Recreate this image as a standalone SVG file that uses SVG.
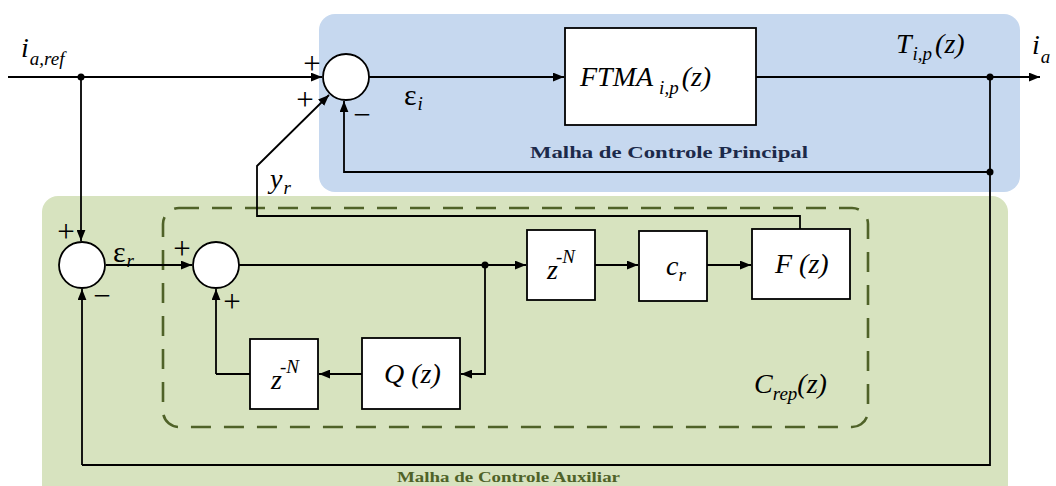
<svg xmlns="http://www.w3.org/2000/svg" width="1056" height="486" viewBox="0 0 1056 486">
<defs>
<marker id="ah" viewBox="0 0 10 8" refX="10" refY="4" markerWidth="11" markerHeight="9" markerUnits="userSpaceOnUse" orient="auto">
<path d="M0,0 L10,4 L0,8 Z" fill="#000"/>
</marker>
</defs>
<style>
.ln{fill:none;stroke:#000;stroke-width:1.8}
.ar{fill:none;stroke:#000;stroke-width:1.8;marker-end:url(#ah)}
.box{fill:#fff;stroke:#000;stroke-width:1.8}
.sum{fill:#fff;stroke:#000;stroke-width:1.8}
.m{font-family:"Liberation Serif",serif;font-style:italic;fill:#000;font-size:28px}
.sb{font-size:19px}
.s{font-family:"Liberation Serif",serif;fill:#000;font-size:31px}
.dot{fill:#000}
</style>
<rect x="42" y="196" width="966" height="310" rx="16" fill="#d7e3bf"/>
<rect x="319" y="14" width="701" height="178" rx="16" fill="#c6d8ef"/>
<rect x="163" y="208" width="705" height="219" rx="16" fill="none" stroke="#4f6228" stroke-width="2.6" stroke-dasharray="20 13"/>
<g id="connectors">
<path class="ar" d="M8,77 L322,77"/>
<path class="ar" d="M369,77 L564,77"/>
<path class="ar" d="M756,77 L1040,77"/>
<path class="ln" d="M990,77 L990,465 L82,465"/>
<path class="ar" d="M82,465 L82,289"/>
<path class="ar" d="M990,172 L344,172 L344,101"/>
<path class="ar" d="M81,77 L81,241"/>
<path class="ar" d="M106,265 L192,265"/>
<path class="ln" d="M239,265 L485,265"/>
<path class="ar" d="M485,265 L526,265"/>
<path class="ar" d="M595,265 L638,265"/>
<path class="ar" d="M707,265 L751,265"/>
<path class="ar" d="M485,265 L485,374 L461,374"/>
<path class="ar" d="M362,374 L319,374"/>
<path class="ln" d="M250,374 L216,374"/>
<path class="ar" d="M216,374 L216,289"/>
<path class="ar" d="M800,229 L800,216 L257,216 L257,166 L329,95"/>
<circle class="dot" cx="81" cy="77" r="3.5"/>
<circle class="dot" cx="990" cy="77" r="3.5"/>
<circle class="dot" cx="990" cy="172" r="3.5"/>
<circle class="dot" cx="485" cy="265" r="3.5"/>
</g>
<g id="sum-main"><circle class="sum" cx="346" cy="77" r="23"/></g>
<g id="sum-aux"><circle class="sum" cx="82" cy="265" r="23"/></g>
<g id="sum-rep"><circle class="sum" cx="216" cy="265" r="23"/></g>
<g id="ftma"><rect class="box" x="565" y="28" width="191" height="97"/>
<text class="m" x="580" y="86">FTMA<tspan class="sb" dx="6" dy="8">i,p</tspan><tspan dx="3" dy="-8">(z)</tspan></text></g>
<g id="zn1"><rect class="box" x="527" y="230" width="68" height="70"/>
<text class="m" x="547" y="279">z<tspan class="sb" dx="-2" dy="-16">-N</tspan></text></g>
<g id="cr"><rect class="box" x="639" y="231" width="68" height="70"/>
<text class="m" x="666" y="275">c<tspan class="sb" dy="6">r</tspan></text></g>
<g id="fz"><rect class="box" x="752" y="229" width="98" height="70"/>
<text class="m" x="775" y="273">F (z)</text></g>
<g id="qz"><rect class="box" x="362" y="338" width="98" height="71"/>
<text class="m" x="384" y="383">Q (z)</text></g>
<g id="zn2"><rect class="box" x="250" y="339" width="68" height="70"/>
<text class="m" x="271" y="389">z<tspan class="sb" dx="-2" dy="-16">-N</tspan></text></g>
<g id="labels">
<text class="m" x="21" y="57">i<tspan class="sb" dx="1" dy="8">a,ref</tspan></text>
<text class="m" x="896" y="53">T<tspan class="sb" dx="1" dy="7">i,p</tspan><tspan dx="3" dy="-7">(z)</tspan></text>
<text class="m" x="1032" y="54">i<tspan class="sb" dx="1" dy="9">a</tspan></text>
<text font-family="Liberation Serif,serif" font-size="30" x="404" y="105">ε<tspan class="m sb" dx="1" dy="5">i</tspan></text>
<text font-family="Liberation Serif,serif" font-size="30" x="113" y="262">ε<tspan class="m sb" dx="1" dy="5">r</tspan></text>
<text class="m" x="270" y="188">y<tspan class="sb" dx="1" dy="6">r</tspan></text>
<text class="m" x="754" y="393">C<tspan class="sb" dy="7">rep</tspan><tspan dy="-7">(z)</tspan></text>
<text class="s" x="312" y="74" text-anchor="middle">+</text>
<text class="s" x="305" y="110" text-anchor="middle">+</text>
<text class="s" x="362" y="125" text-anchor="middle">−</text>
<text class="s" x="66" y="242" text-anchor="middle">+</text>
<text class="s" x="102" y="306" text-anchor="middle">−</text>
<text class="s" x="182" y="259" text-anchor="middle">+</text>
<text class="s" x="232" y="312" text-anchor="middle">+</text>
<text font-family="Liberation Serif,serif" font-weight="bold" font-size="17" fill="#1c2a4a" x="530" y="158" textLength="278" lengthAdjust="spacingAndGlyphs">Malha de Controle Principal</text>
<text font-family="Liberation Serif,serif" font-weight="bold" font-size="14" fill="#4f6228" x="397" y="482" textLength="223" lengthAdjust="spacingAndGlyphs">Malha de Controle Auxiliar</text>
</g>
</svg>
